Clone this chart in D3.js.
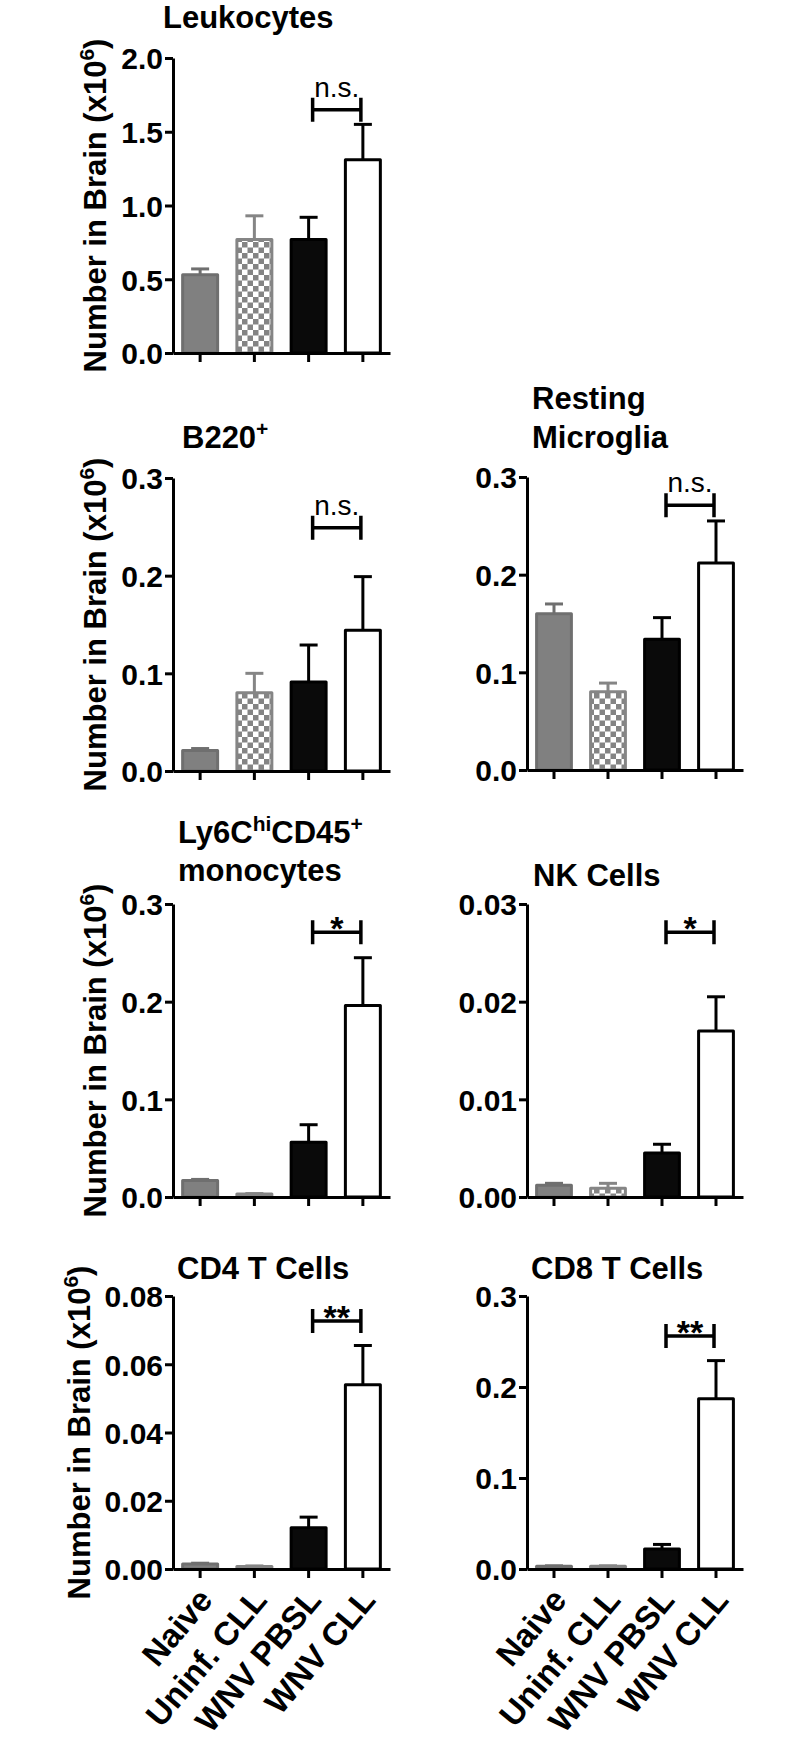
<!DOCTYPE html>
<meta charset="utf-8">
<style>

body {
  margin: 0;
  background: #fff;
}

svg text {
  font-family: "Liberation Sans", Arial, sans-serif;
  fill: #000;
}

.axis path,
.axis line {
  stroke: #000;
  stroke-width: 3px;
}

</style>
<svg></svg>
<script src="https://cdn.jsdelivr.net/npm/d3@7"></script>
<script>

var width = 800,
    height = 1750;

// groups on the x axis
var groups = ["Naive", "Uninf. CLL", "WNV PBSL", "WNV CLL"];

// mean and SEM for every panel (x10^6 cells)
var leukMean = [0.53, 0.77, 0.77, 1.31],
    leukSem  = [0.04, 0.16, 0.15, 0.24];

var b220Mean = [0.021, 0.080, 0.091, 0.144],
    b220Sem  = [0.002, 0.020, 0.038, 0.055];

var microMean = [0.160, 0.080, 0.134, 0.212],
    microSem  = [0.010, 0.009, 0.022, 0.043];

var monoMean = [0.017, 0.003, 0.056, 0.196],
    monoSem  = [0.001, 0.0005, 0.018, 0.049];

var nkMean = [0.0012, 0.0009, 0.0045, 0.0170],
    nkSem  = [0.0002, 0.0005, 0.0009, 0.0035];

var cd4Mean = [0.0015, 0.0007, 0.0121, 0.0540],
    cd4Sem  = [0.0002, 0.0002, 0.0031, 0.0115];

var cd8Mean = [0.003, 0.003, 0.022, 0.187],
    cd8Sem  = [0.0005, 0.0005, 0.005, 0.042];

// y ticks of each panel
var leukTicks  = [0, 0.5, 1.0, 1.5, 2.0],
    tenthTicks = [0, 0.1, 0.2, 0.3],
    nkTicks    = [0, 0.01, 0.02, 0.03],
    cd4Ticks   = [0, 0.02, 0.04, 0.06, 0.08];

// WNV PBSL vs WNV CLL comparison: label and bracket height (data units)
var sigLabel = ["n.s.", "n.s.", "n.s.", "*", "*", "**", "**"],
    sigLevel = [1.65, 0.249, 0.271, 0.271, 0.0271, 0.0727, 0.256];

var svg = d3.select("svg")
    .attr("width", width)
    .attr("height", height);

var defs = svg.append("defs");

var checker = defs.append("pattern")
    .attr("id", "checker")
    .attr("patternUnits", "userSpaceOnUse")
    .attr("width", 11)
    .attr("height", 11);
checker.append("rect").attr("width", 11).attr("height", 11).attr("fill", "#fff");
checker.append("rect").attr("width", 5.5).attr("height", 5.5).attr("fill", "#848484");
checker.append("rect").attr("x", 5.5).attr("y", 5.5).attr("width", 5.5).attr("height", 5.5).attr("fill", "#848484");

var fills   = ["#808080", "url(#checker)", "#0a0a0a", "#fff"],
    strokes = ["#6f6f6f", "#858585", "#000", "#000"];

// layout of the seven panels
var left = [173, 390], right = [527, 743];

var panels = [
  {x: left,  y: [58, 353],    max: 2.0,  ticks: leukTicks,  fmt: ".1f", mean: leukMean,  sem: leukSem,  ylab: 106},
  {x: left,  y: [478, 771],   max: 0.3,  ticks: tenthTicks, fmt: ".1f", mean: b220Mean,  sem: b220Sem,  ylab: 106},
  {x: right, y: [477, 770],   max: 0.3,  ticks: tenthTicks, fmt: ".1f", mean: microMean, sem: microSem},
  {x: left,  y: [904, 1197],  max: 0.3,  ticks: tenthTicks, fmt: ".1f", mean: monoMean,  sem: monoSem,  ylab: 106},
  {x: right, y: [904, 1197],  max: 0.03, ticks: nkTicks,    fmt: ".2f", mean: nkMean,    sem: nkSem},
  {x: left,  y: [1296, 1569], max: 0.08, ticks: cd4Ticks,   fmt: ".2f", mean: cd4Mean,   sem: cd4Sem,   ylab: 90, xlab: true},
  {x: right, y: [1296, 1569], max: 0.3,  ticks: tenthTicks, fmt: ".1f", mean: cd8Mean,   sem: cd8Sem,   xlab: true}
];

// titles: list of lines, each a list of [text, superscript?]
var titles = [
  {x: 163, y: [28], lines: [[["Leukocytes"]]]},
  {x: 182, y: [448], lines: [[["B220"], ["+", 1]]]},
  {x: 532, y: [409, 448], lines: [[["Resting"]], [["Microglia"]]]},
  {x: 178, y: [843, 881], lines: [[["Ly6C"], ["hi", 1], ["CD45"], ["+", 1]], [["monocytes"]]]},
  {x: 533, y: [886], lines: [[["NK Cells"]]]},
  {x: 177, y: [1279], lines: [[["CD4 T Cells"]]]},
  {x: 531, y: [1279], lines: [[["CD8 T Cells"]]]}
];

panels.forEach(function(p, i) {
  var g = svg.append("g");

  var x = d3.scaleBand()
      .domain(groups)
      .range(p.x)
      .paddingInner(0.3)
      .paddingOuter(0.15);

  var y = d3.scaleLinear()
      .domain([0, p.max])
      .range([p.y[1], p.y[0]]);

  var data = groups.map(function(name, j) {
    return {name: name, i: j, mean: p.mean[j], sem: p.sem[j]};
  });

  // error bars (upper only), drawn first so the bar covers the stem
  var err = g.selectAll(".err")
      .data(data)
    .enter().append("g")
      .attr("stroke", function(d) { return strokes[d.i]; })
      .attr("stroke-width", 3);

  err.append("line")
      .attr("x1", function(d) { return x(d.name) + x.bandwidth() / 2; })
      .attr("x2", function(d) { return x(d.name) + x.bandwidth() / 2; })
      .attr("y1", function(d) { return y(d.mean); })
      .attr("y2", function(d) { return y(d.mean + d.sem); });

  err.append("line")
      .attr("x1", function(d) { return x(d.name) + x.bandwidth() / 2 - 9; })
      .attr("x2", function(d) { return x(d.name) + x.bandwidth() / 2 + 9; })
      .attr("y1", function(d) { return y(d.mean + d.sem); })
      .attr("y2", function(d) { return y(d.mean + d.sem); });

  g.selectAll(".bar")
      .data(data)
    .enter().append("rect")
      .attr("x", function(d) { return x(d.name) + 1.5; })
      .attr("width", x.bandwidth() - 3)
      .attr("y", function(d) { return y(d.mean); })
      .attr("height", function(d) { return y(0) - y(d.mean); })
      .attr("fill", function(d) { return fills[d.i]; })
      .attr("stroke", function(d) { return strokes[d.i]; })
      .attr("stroke-width", 3)
      .attr("stroke-linejoin", "round");

  // axes
  g.append("g")
      .attr("class", "axis")
      .attr("transform", "translate(" + p.x[0] + ",0)")
      .call(d3.axisLeft(y)
          .tickValues(p.ticks)
          .tickFormat(d3.format(p.fmt))
          .tickSize(8)
          .tickSizeOuter(0)
          .tickPadding(2))
      .call(function(a) {
        a.selectAll("text")
            .attr("font-size", 30)
            .attr("font-weight", "bold")
            .attr("dy", "0.36em");
      });

  var xa = g.append("g")
      .attr("class", "axis")
      .attr("transform", "translate(0," + p.y[1] + ")")
      .call(d3.axisBottom(x).tickSize(9).tickSizeOuter(0));

  if (p.xlab) {
    xa.selectAll("text")
        .attr("font-size", 33)
        .attr("font-weight", "bold")
        .attr("text-anchor", "end")
        .attr("dy", null)
        .attr("y", 0)
        .attr("transform", "translate(14,32) rotate(-50)");
  } else {
    xa.selectAll("text").remove();
  }

  // y label
  if (p.ylab) {
    var yl = g.append("text")
        .attr("transform", "translate(" + p.ylab + "," + (p.y[0] + p.y[1]) / 2 + ") rotate(-90)")
        .attr("text-anchor", "middle")
        .attr("font-weight", "bold")
        .attr("font-size", 31);
    yl.append("tspan").text("Number in Brain (x10");
    yl.append("tspan").attr("dy", -12).attr("font-size", 21).text("6");
    yl.append("tspan").attr("dy", 12).text(")");
  }

  // significance bracket between WNV PBSL and WNV CLL
  var bx1 = x(groups[2]) + x.bandwidth() / 2 + 4,
      bx2 = x(groups[3]) + x.bandwidth() / 2 - 2,
      by = y(sigLevel[i]);

  g.append("path")
      .attr("d", "M" + bx1 + "," + (by - 12) + "V" + (by + 12) +
                 "M" + bx1 + "," + by + "H" + bx2 +
                 "M" + bx2 + "," + (by - 12) + "V" + (by + 12))
      .attr("fill", "none")
      .attr("stroke", "#000")
      .attr("stroke-width", 3.5);

  var ns = sigLabel[i] === "n.s.";
  g.append("text")
      .attr("x", (bx1 + bx2) / 2)
      .attr("y", ns ? by - 13 : by + 8)
      .attr("text-anchor", "middle")
      .attr("font-size", ns ? 28 : 34)
      .attr("font-weight", ns ? "normal" : "bold")
      .text(sigLabel[i]);

  // title
  var t = titles[i];
  t.lines.forEach(function(line, k) {
    var tt = svg.append("text")
        .attr("x", t.x)
        .attr("y", t.y[k])
        .attr("font-weight", "bold")
        .attr("font-size", 31);
    var up = false;
    line.forEach(function(part) {
      var s = tt.append("tspan").text(part[0]);
      if (part[1] && !up) { s.attr("dy", -12).attr("font-size", 21); up = true; }
      else if (!part[1] && up) { s.attr("dy", 12); up = false; }
      else if (part[1]) { s.attr("font-size", 21); }
    });
  });
});

</script>
